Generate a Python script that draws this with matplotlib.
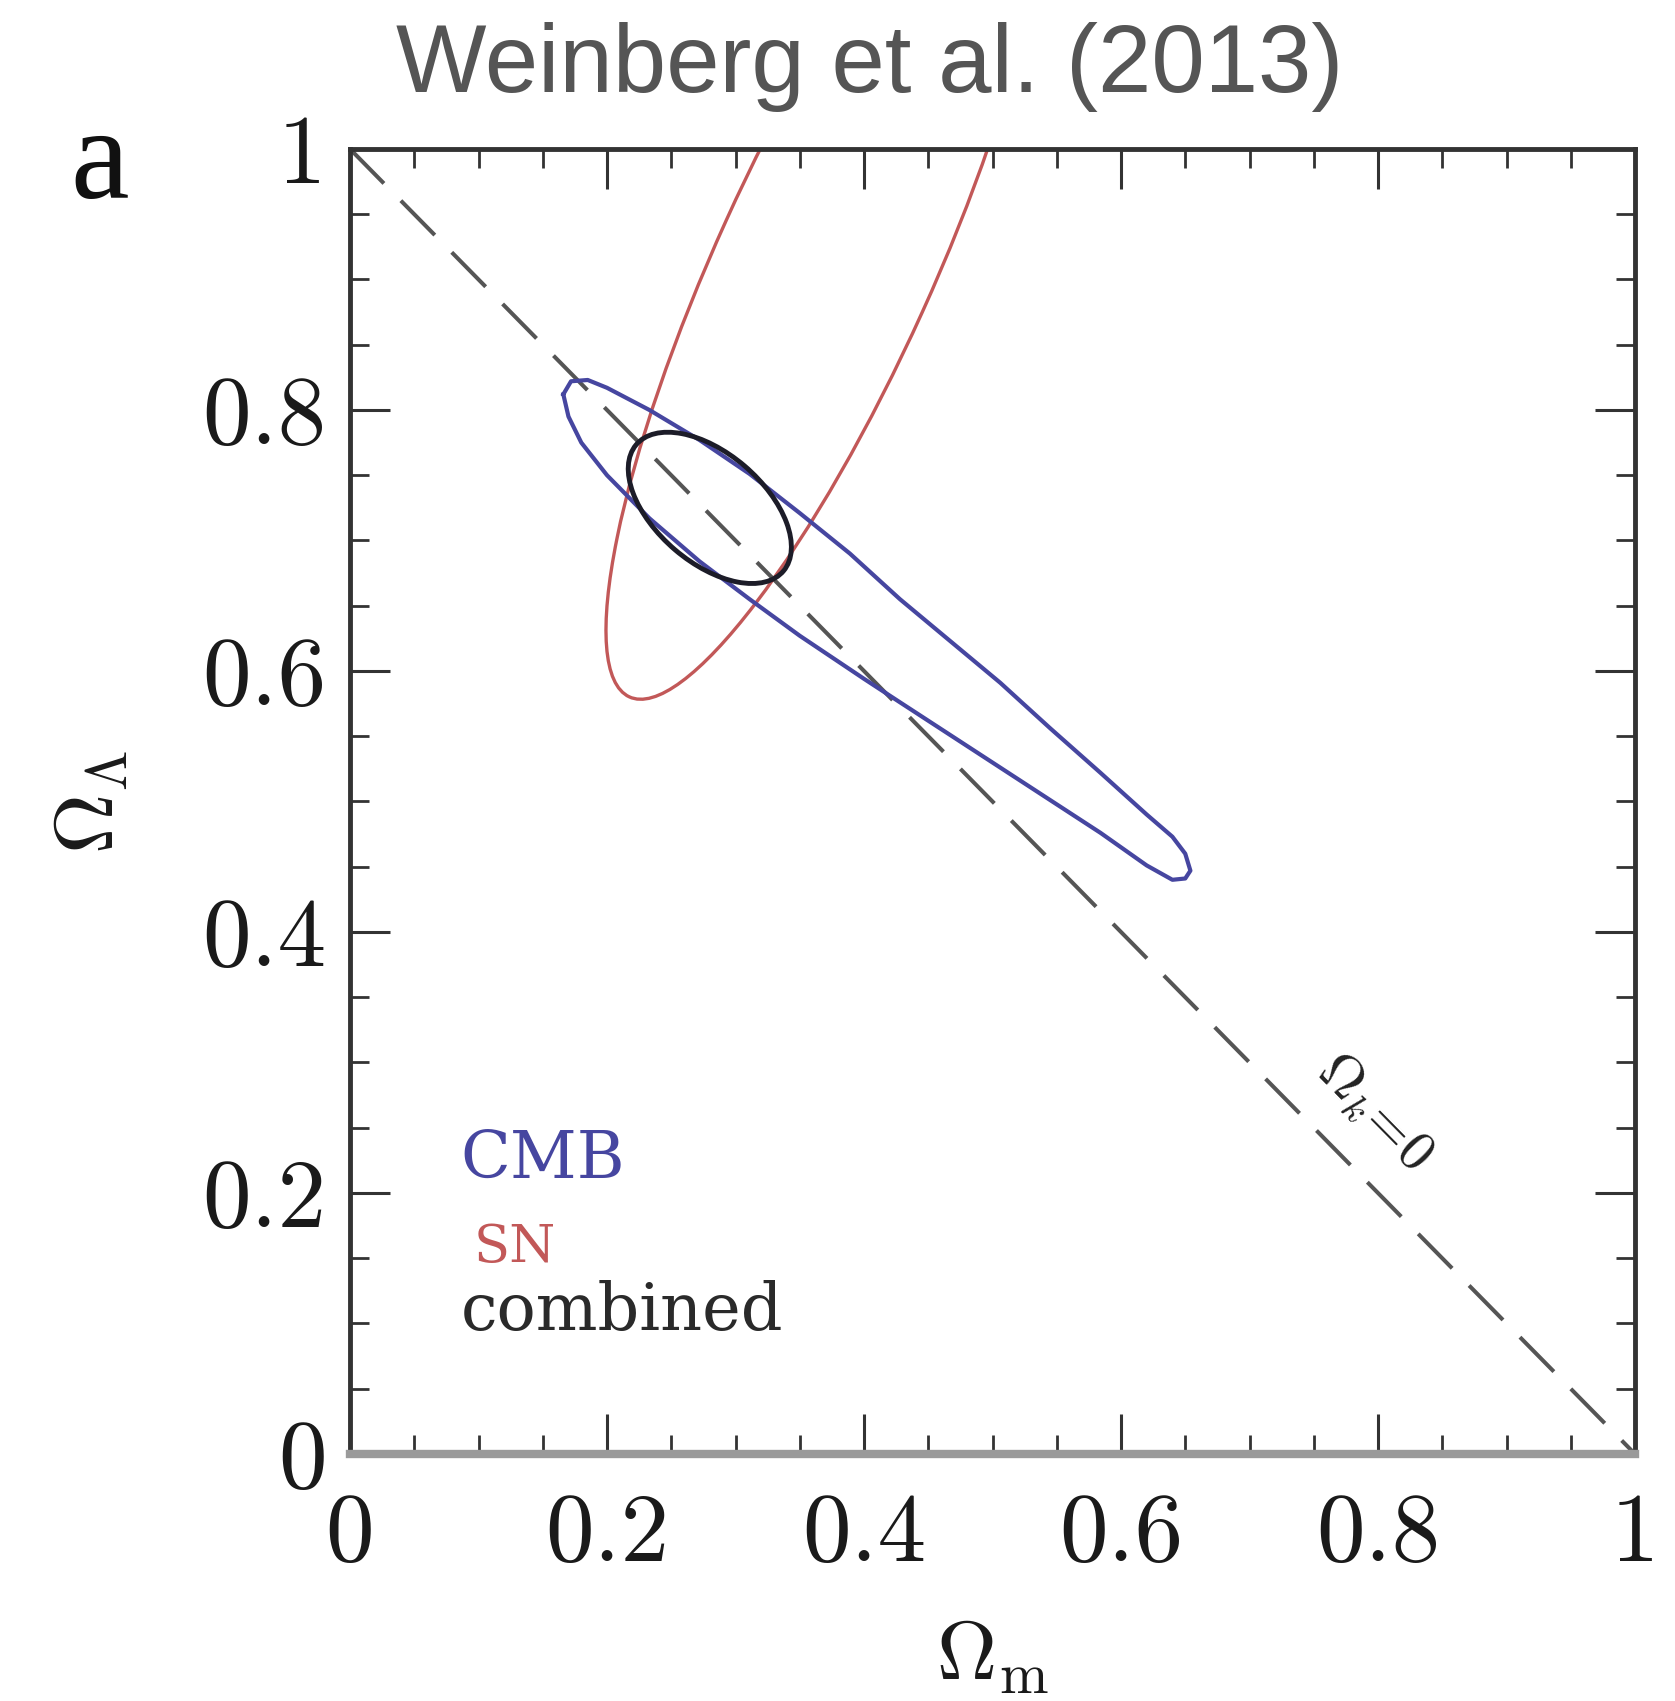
import matplotlib
matplotlib.use("Agg")
import matplotlib.pyplot as plt
from matplotlib.patches import Ellipse

plt.rcParams["mathtext.fontset"] = "cm"

# ---- data -------------------------------------------------------------
# Omega_k = 0 (flat universe) line
flat_x = [0.0, 1.0]
flat_y = [1.0, 0.0]

# CMB confidence contour (Omega_m, Omega_Lambda), traced clockwise
cmb_x = [0.166, 0.172, 0.185, 0.200, 0.233, 0.272, 0.311, 0.350, 0.389,
         0.428, 0.467, 0.506, 0.545, 0.584, 0.620, 0.640, 0.650, 0.654,
         0.650, 0.640, 0.620, 0.584, 0.545, 0.506, 0.467, 0.428, 0.400,
         0.350, 0.311, 0.272, 0.233, 0.200, 0.180, 0.170, 0.166]
cmb_y = [0.812, 0.822, 0.823, 0.817, 0.800, 0.777, 0.751, 0.721, 0.690,
         0.655, 0.623, 0.591, 0.556, 0.522, 0.490, 0.473, 0.460, 0.447,
         0.441, 0.440, 0.451, 0.476, 0.501, 0.526, 0.551, 0.576, 0.594,
         0.627, 0.655, 0.684, 0.717, 0.750, 0.775, 0.795, 0.812]

# Supernova contour: centre, full width, full height, tilt (deg)
sn_center = (0.369, 0.910)
sn_size = (0.726, 0.168)
sn_angle = 65.3

# Combined contour
comb_center = (0.280, 0.725)
comb_size = (0.150, 0.084)
comb_angle = -40.0

major_ticks = [0.0, 0.2, 0.4, 0.6, 0.8, 1.0]
tick_labels = ["0", "0.2", "0.4", "0.6", "0.8", "1"]
minor_ticks = [i * 0.05 for i in range(21)]

# ---- figure -----------------------------------------------------------
fig = plt.figure(figsize=(16.75, 17.01), dpi=100)
ax = fig.add_axes([0.20896, 0.14521, 0.76716, 0.76720])
ax.set_xlim(0, 1)
ax.set_ylim(0, 1)

col_cmb = "#4646a0"
col_sn = "#c25858"
col_comb = "#1c1c28"

ax.add_patch(Ellipse(sn_center, sn_size[0], sn_size[1], angle=sn_angle,
                     fill=False, edgecolor=col_sn, lw=2.4, zorder=2))
ax.plot(cmb_x, cmb_y, color=col_cmb, lw=3.0, zorder=3)
ax.add_patch(Ellipse(comb_center, comb_size[0], comb_size[1], angle=comb_angle,
                     fill=False, edgecolor=col_comb, lw=3.5, zorder=4))
ax.plot(flat_x, flat_y, color="#555555", lw=2.9, dashes=(12, 6), zorder=1)

ax.text(0.798, 0.262, r"$\Omega_k\!=\!0$", rotation=-45.4, ha="center",
        va="center", fontsize=40, color="#222222")

# curve labels
ax.text(0.086, 0.212, "CMB", color=col_cmb, fontsize=47,
        family="DejaVu Serif", ha="left", va="baseline")
ax.text(0.096, 0.147, "SN", color=col_sn, fontsize=38,
        family="DejaVu Serif", ha="left", va="baseline")
ax.text(0.086, 0.095, "combined", color="#2a2a2a", fontsize=47,
        family="DejaVu Serif", ha="left", va="baseline")

# ticks
ax.set_xticks(major_ticks)
ax.set_yticks(major_ticks)
ax.set_xticks(minor_ticks, minor=True)
ax.set_yticks(minor_ticks, minor=True)
ax.set_xticklabels(tick_labels, fontfamily="cmr10", fontsize=70)
ax.set_yticklabels(tick_labels, fontfamily="cmr10", fontsize=70)
ax.tick_params(which="both", direction="in", top=True, right=True,
               color="#333333", labelcolor="#1a1a1a")
ax.tick_params(which="major", length=29, width=2.2)
ax.tick_params(which="minor", length=14, width=2.0)
ax.tick_params(axis="x", which="major", pad=28)
ax.tick_params(axis="y", which="major", pad=17)

for side in ["left", "right", "top"]:
    ax.spines[side].set_linewidth(3.5)
    ax.spines[side].set_color("#333333")
ax.spines["bottom"].set_linewidth(6)
ax.spines["bottom"].set_color("#9a9a9a")

# axis labels
ax.text(-0.2023, 0.5, r"$\Omega_\Lambda$", transform=ax.transAxes,
        rotation=90, ha="center", va="center", fontsize=60, color="#1a1a1a")
ax.text(0.5, -0.173, r"$\Omega_{\rm m}$", transform=ax.transAxes,
        ha="center", va="baseline", fontsize=60, color="#1a1a1a")

# panel letter and heading
fig.text(0.042, 0.8836, "a", family="Liberation Serif", fontsize=95,
         color="#111111", ha="left", va="baseline")
fig.text(0.519, 0.946, "Weinberg et al. (2013)", family="Liberation Sans",
         fontsize=69, color="#555555", ha="center", va="baseline")

fig.savefig("out.png", dpi=100, facecolor="white")
